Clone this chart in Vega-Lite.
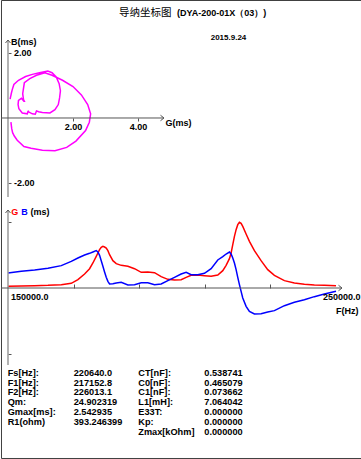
{
  "$schema": "https://vega.github.io/schema/vega-lite/v6.json",
  "padding": 0,
  "spacing": 0,
  "bounds": "flush",
  "background": "white",
  "config": {"view": {"stroke": null}, "axis": {"grid": false, "domain": false, "labels": false, "ticks": false, "title": null}},
  "datasets": {
    "sweep": [
      {"f": 150000, "G": 0.065, "B": 0.581},
      {"f": 154061, "G": 0.077, "B": 0.645},
      {"f": 158122, "G": 0.090, "B": 0.697},
      {"f": 162183, "G": 0.103, "B": 0.761},
      {"f": 166244, "G": 0.129, "B": 0.865},
      {"f": 169289, "G": 0.181, "B": 1.032},
      {"f": 171320, "G": 0.323, "B": 1.161},
      {"f": 173350, "G": 0.542, "B": 1.277},
      {"f": 174873, "G": 0.748, "B": 1.342},
      {"f": 175888, "G": 0.968, "B": 1.394},
      {"f": 176904, "G": 1.226, "B": 1.445},
      {"f": 177411, "G": 1.355, "B": 1.394},
      {"f": 177919, "G": 1.484, "B": 1.265},
      {"f": 178426, "G": 1.574, "B": 1.058},
      {"f": 178934, "G": 1.613, "B": 0.839},
      {"f": 179442, "G": 1.587, "B": 0.619},
      {"f": 179949, "G": 1.548, "B": 0.413},
      {"f": 180457, "G": 1.445, "B": 0.258},
      {"f": 180964, "G": 1.290, "B": 0.155},
      {"f": 181980, "G": 1.058, "B": 0.168},
      {"f": 182995, "G": 0.942, "B": 0.194},
      {"f": 184518, "G": 0.877, "B": 0.219},
      {"f": 186548, "G": 0.839, "B": 0.116},
      {"f": 188579, "G": 0.748, "B": 0.129},
      {"f": 190609, "G": 0.606, "B": 0.206},
      {"f": 192640, "G": 0.619, "B": 0.206},
      {"f": 194670, "G": 0.594, "B": 0.129},
      {"f": 196701, "G": 0.439, "B": 0.155},
      {"f": 198731, "G": 0.335, "B": 0.284},
      {"f": 200761, "G": 0.310, "B": 0.413},
      {"f": 202792, "G": 0.323, "B": 0.542},
      {"f": 204315, "G": 0.413, "B": 0.606},
      {"f": 205838, "G": 0.490, "B": 0.516},
      {"f": 207868, "G": 0.503, "B": 0.516},
      {"f": 209898, "G": 0.477, "B": 0.568},
      {"f": 211929, "G": 0.452, "B": 0.748},
      {"f": 213959, "G": 0.503, "B": 1.084},
      {"f": 215482, "G": 0.671, "B": 1.213},
      {"f": 216497, "G": 0.877, "B": 1.316},
      {"f": 217513, "G": 1.135, "B": 1.394},
      {"f": 218020, "G": 1.355, "B": 1.316},
      {"f": 218528, "G": 1.677, "B": 1.161},
      {"f": 219036, "G": 2.000, "B": 0.968},
      {"f": 219543, "G": 2.258, "B": 0.710},
      {"f": 220051, "G": 2.452, "B": 0.413},
      {"f": 220558, "G": 2.542, "B": 0.129},
      {"f": 221066, "G": 2.503, "B": -0.129},
      {"f": 221574, "G": 2.387, "B": -0.387},
      {"f": 222589, "G": 2.090, "B": -0.710},
      {"f": 223604, "G": 1.806, "B": -0.903},
      {"f": 225127, "G": 1.445, "B": -1.006},
      {"f": 227157, "G": 1.058, "B": -0.994},
      {"f": 229188, "G": 0.710, "B": -0.929},
      {"f": 231218, "G": 0.490, "B": -0.877},
      {"f": 234264, "G": 0.284, "B": -0.684},
      {"f": 237310, "G": 0.194, "B": -0.555},
      {"f": 240355, "G": 0.142, "B": -0.452},
      {"f": 243401, "G": 0.116, "B": -0.335},
      {"f": 246447, "G": 0.103, "B": -0.232},
      {"f": 250000, "G": 0.090, "B": -0.129}
    ],
    "params": [
      {"side": "left", "line": 1, "param": "Fs[Hz]:", "value": "220640.0"},
      {"side": "left", "line": 2, "param": "F1[Hz]:", "value": "217152.8"},
      {"side": "left", "line": 3, "param": "F2[Hz]:", "value": "226013.1"},
      {"side": "left", "line": 4, "param": "Qm:", "value": "24.902319"},
      {"side": "left", "line": 5, "param": "Gmax[ms]:", "value": "2.542935"},
      {"side": "left", "line": 6, "param": "R1(ohm)", "value": "393.246399"},
      {"side": "right", "line": 1, "param": "CT[nF]:", "value": "0.538741"},
      {"side": "right", "line": 2, "param": "C0[nF]:", "value": "0.465079"},
      {"side": "right", "line": 3, "param": "C1[nF]:", "value": "0.073662"},
      {"side": "right", "line": 4, "param": "L1[mH]:", "value": "7.064042"},
      {"side": "right", "line": 5, "param": "E33T:", "value": "0.000000"},
      {"side": "right", "line": 6, "param": "Kp:", "value": "0.000000"},
      {"side": "right", "line": 7, "param": "Zmax[kOhm]", "value": "0.000000"}
    ]
  },
  "vconcat": [
    {
      "width": 361,
      "height": 200,
      "data": {"name": "sweep"},
      "layer": [
        {
          "mark": {"type": "line", "color": "#ff00ff", "strokeWidth": 1.5},
          "encoding": {
            "x": {
              "field": "G", "type": "quantitative",
              "scale": {"domain": [-0.21538, 10.89231], "nice": false, "zero": false},
              "axis": {"orient": "bottom", "offset": -82, "values": [2, 4], "format": ".2f", "domain": false, "grid": false, "ticks": true, "labels": true, "tickSize": 3, "tickColor": "#555555", "labelPadding": 1.5, "labelFont": "Liberation Sans", "labelFontSize": 9, "labelFontWeight": "bold", "labelColor": "#000000", "title": null}
            },
            "y": {
              "field": "B", "type": "quantitative",
              "scale": {"domain": [-2.52308, 3.63077], "nice": false, "zero": false},
              "axis": {"orient": "right", "offset": -354, "values": [-2, 2], "labelExpr": "datum.value < 0 ? '-' + format(-datum.value, '.2f') : format(datum.value, '.2f')", "domain": false, "grid": false, "ticks": true, "labels": true, "tickSize": 3, "tickColor": "#555555", "labelPadding": 2.5, "labelFont": "Liberation Sans", "labelFontSize": 9, "labelFontWeight": "bold", "labelColor": "#000000", "title": null}
            },
            "order": {"field": "f", "type": "quantitative"}
          }
        },
        {
          "data": {"values": [{}]},
          "mark": {"type": "rect", "fill": "transparent", "stroke": "#404040", "strokeWidth": 1},
          "encoding": {
            "x": {"datum": -0.2, "type": "quantitative"},
            "x2": {"datum": 10.87692},
            "y": {"datum": 3.61538, "type": "quantitative"},
            "y2": {"datum": -10.47692}
          }
        },
        {
          "data": {"values": [{}]},
          "mark": {"type": "rule", "color": "#999999", "strokeWidth": 1.5},
          "encoding": {
            "x": {"datum": 0, "type": "quantitative"},
            "y": {"datum": 2.4, "type": "quantitative"},
            "y2": {"datum": -2.431}
          }
        },
        {
          "data": {"values": [{}]},
          "mark": {"type": "rule", "color": "#555555", "strokeWidth": 1},
          "encoding": {
            "y": {"datum": 0, "type": "quantitative"},
            "x": {"datum": -0.21538, "type": "quantitative"},
            "x2": {"datum": 4.8}
          }
        },
        {
          "data": {"values": [{}]},
          "mark": {"type": "point", "shape": "M-1,1.2L0,0L1,1.2", "filled": false, "stroke": "#555555", "strokeWidth": 1, "size": 25, "opacity": 1},
          "encoding": {
            "x": {"datum": 0, "type": "quantitative"},
            "y": {"datum": 2.4, "type": "quantitative"}
          }
        },
        {
          "data": {"values": [{}]},
          "mark": {"type": "point", "shape": "M-1.4,-1.1L0,0L-1.4,1.1", "filled": false, "stroke": "#555555", "strokeWidth": 1, "size": 25, "opacity": 1},
          "encoding": {
            "x": {"datum": 4.8, "type": "quantitative"},
            "y": {"datum": 0, "type": "quantitative"}
          }
        },
        {
          "data": {"values": [{}]},
          "mark": {"type": "text", "text": "导纳坐标图", "font": "Noto Sans CJK SC", "fontSize": 10.5, "align": "left", "baseline": "middle", "color": "#000000"},
          "encoding": {
            "x": {"datum": 3.41538, "type": "quantitative"},
            "y": {"datum": 3.24615, "type": "quantitative"}
          }
        },
        {
          "data": {"values": [{}]},
          "mark": {"type": "text", "text": "(DYA-200-01X（03）)", "font": "Liberation Sans", "fontSize": 9, "fontWeight": "bold", "align": "left", "baseline": "middle", "color": "#000000"},
          "encoding": {
            "x": {"datum": 5.2, "type": "quantitative"},
            "y": {"datum": 3.24615, "type": "quantitative"}
          }
        },
        {
          "data": {"values": [{}]},
          "mark": {"type": "text", "text": "2015.9.24", "font": "Liberation Sans", "fontSize": 8, "fontWeight": "bold", "align": "center", "baseline": "middle", "color": "#000000"},
          "encoding": {
            "x": {"datum": 6.785, "type": "quantitative"},
            "y": {"datum": 2.452, "type": "quantitative"}
          }
        },
        {
          "data": {"values": [{}]},
          "mark": {"type": "text", "text": "B(ms)", "font": "Liberation Sans", "fontSize": 9, "fontWeight": "bold", "align": "left", "baseline": "middle", "dx": 3, "color": "#000000"},
          "encoding": {
            "x": {"datum": 0, "type": "quantitative"},
            "y": {"datum": 2.348, "type": "quantitative"}
          }
        },
        {
          "data": {"values": [{}]},
          "mark": {"type": "text", "text": "G(ms)", "font": "Liberation Sans", "fontSize": 9, "fontWeight": "bold", "align": "left", "baseline": "middle", "dx": 1.5, "color": "#000000"},
          "encoding": {
            "x": {"datum": 4.8, "type": "quantitative"},
            "y": {"datum": -0.169, "type": "quantitative"}
          }
        }
      ]
    },
    {
      "width": 361,
      "height": 165,
      "data": {"name": "sweep"},
      "layer": [
        {
          "mark": {"type": "line", "color": "#ff0000", "strokeWidth": 1.5},
          "encoding": {
            "x": {
              "field": "f", "type": "quantitative",
              "scale": {"domain": [147865.9, 257926.8], "nice": false, "zero": false},
              "axis": {"orient": "top", "offset": -88, "values": [170000, 190000, 210000, 230000], "labels": false, "ticks": true, "domain": false, "grid": false, "tickSize": 4, "tickColor": "#555555", "title": null}
            },
            "y": {
              "field": "G", "type": "quantitative",
              "scale": {"domain": [-2.9806, 3.4065], "nice": false, "zero": false},
              "axis": {"orient": "right", "offset": -354, "values": [-2.54, 2.54], "labels": false, "ticks": true, "domain": false, "grid": false, "tickSize": 3, "tickColor": "#555555", "title": null}
            }
          }
        },
        {
          "mark": {"type": "line", "color": "#0000ff", "strokeWidth": 1.5},
          "encoding": {
            "x": {"field": "f", "type": "quantitative"},
            "y": {"field": "B", "type": "quantitative"}
          }
        },
        {
          "data": {"values": [{}]},
          "mark": {"type": "rule", "color": "#999999", "strokeWidth": 1.5},
          "encoding": {
            "x": {"datum": 150000, "type": "quantitative"},
            "y": {"datum": 3.019, "type": "quantitative"},
            "y2": {"datum": -2.9806}
          }
        },
        {
          "data": {"values": [{}]},
          "mark": {"type": "rule", "color": "#555555", "strokeWidth": 1},
          "encoding": {
            "y": {"datum": 0, "type": "quantitative"},
            "x": {"datum": 147865.9, "type": "quantitative"},
            "x2": {"datum": 251829.3}
          }
        },
        {
          "data": {"values": [{}]},
          "mark": {"type": "point", "shape": "M-1,1.2L0,0L1,1.2", "filled": false, "stroke": "#555555", "strokeWidth": 1, "size": 25, "opacity": 1},
          "encoding": {
            "x": {"datum": 150000, "type": "quantitative"},
            "y": {"datum": 3.019, "type": "quantitative"}
          }
        },
        {
          "data": {"values": [{}]},
          "mark": {"type": "point", "shape": "M-1.4,-1.1L0,0L-1.4,1.1", "filled": false, "stroke": "#555555", "strokeWidth": 1, "size": 25, "opacity": 1},
          "encoding": {
            "x": {"datum": 251829.3, "type": "quantitative"},
            "y": {"datum": 0, "type": "quantitative"}
          }
        },
        {
          "data": {"values": [{}]},
          "mark": {"type": "text", "text": "G", "font": "Liberation Sans", "fontSize": 9, "fontWeight": "bold", "align": "left", "baseline": "middle", "dx": 3.3, "color": "#ff0000"},
          "encoding": {
            "x": {"datum": 150000, "type": "quantitative"},
            "y": {"datum": 2.954, "type": "quantitative"}
          }
        },
        {
          "data": {"values": [{}]},
          "mark": {"type": "text", "text": "B", "font": "Liberation Sans", "fontSize": 9, "fontWeight": "bold", "align": "left", "baseline": "middle", "dx": 13.3, "color": "#0000ff"},
          "encoding": {
            "x": {"datum": 150000, "type": "quantitative"},
            "y": {"datum": 2.954, "type": "quantitative"}
          }
        },
        {
          "data": {"values": [{}]},
          "mark": {"type": "text", "text": "(ms)", "font": "Liberation Sans", "fontSize": 9, "fontWeight": "bold", "align": "left", "baseline": "middle", "dx": 22.6, "color": "#000000"},
          "encoding": {
            "x": {"datum": 150000, "type": "quantitative"},
            "y": {"datum": 2.954, "type": "quantitative"}
          }
        },
        {
          "data": {"values": [{}]},
          "mark": {"type": "text", "text": "150000.0", "font": "Liberation Sans", "fontSize": 9, "fontWeight": "bold", "align": "left", "baseline": "middle", "dx": 3, "color": "#000000"},
          "encoding": {
            "x": {"datum": 150000, "type": "quantitative"},
            "y": {"datum": -0.348, "type": "quantitative"}
          }
        },
        {
          "data": {"values": [{}]},
          "mark": {"type": "text", "text": "250000.0", "font": "Liberation Sans", "fontSize": 9, "fontWeight": "bold", "align": "left", "baseline": "middle", "dx": -13, "color": "#000000"},
          "encoding": {
            "x": {"datum": 250000, "type": "quantitative"},
            "y": {"datum": -0.348, "type": "quantitative"}
          }
        },
        {
          "data": {"values": [{}]},
          "mark": {"type": "text", "text": "F(Hz)", "font": "Liberation Sans", "fontSize": 9, "fontWeight": "bold", "align": "left", "baseline": "middle", "color": "#000000"},
          "encoding": {
            "x": {"datum": 250000, "type": "quantitative"},
            "y": {"datum": -0.89, "type": "quantitative"}
          }
        }
      ]
    },
    {
      "width": 361,
      "height": 94,
      "data": {"name": "params"},
      "layer": [
        {
          "transform": [{"filter": "datum.side === 'left'"}],
          "mark": {"type": "text", "font": "Liberation Sans", "fontSize": 9.2, "fontWeight": "bold", "align": "left", "baseline": "middle", "color": "#000000"},
          "encoding": {
            "x": {"datum": 0, "type": "quantitative", "scale": {"domain": [-0.0513, 2.7129], "nice": false, "zero": false}},
            "y": {"field": "line", "type": "quantitative", "scale": {"domain": [0.2169, 9.776], "reverse": true, "nice": false, "zero": false}},
            "text": {"field": "param"}
          }
        },
        {
          "transform": [{"filter": "datum.side === 'left'"}],
          "mark": {"type": "text", "font": "Liberation Sans", "fontSize": 9.2, "fontWeight": "bold", "align": "left", "baseline": "middle", "dx": 66, "color": "#000000"},
          "encoding": {
            "x": {"datum": 0, "type": "quantitative"},
            "y": {"field": "line", "type": "quantitative"},
            "text": {"field": "value"}
          }
        },
        {
          "transform": [{"filter": "datum.side === 'right'"}],
          "mark": {"type": "text", "font": "Liberation Sans", "fontSize": 9.2, "fontWeight": "bold", "align": "left", "baseline": "middle", "color": "#000000"},
          "encoding": {
            "x": {"datum": 1, "type": "quantitative"},
            "y": {"field": "line", "type": "quantitative"},
            "text": {"field": "param"}
          }
        },
        {
          "transform": [{"filter": "datum.side === 'right'"}],
          "mark": {"type": "text", "font": "Liberation Sans", "fontSize": 9.2, "fontWeight": "bold", "align": "left", "baseline": "middle", "dx": 66, "color": "#000000"},
          "encoding": {
            "x": {"datum": 1, "type": "quantitative"},
            "y": {"field": "line", "type": "quantitative"},
            "text": {"field": "value"}
          }
        }
      ]
    }
  ]
}
